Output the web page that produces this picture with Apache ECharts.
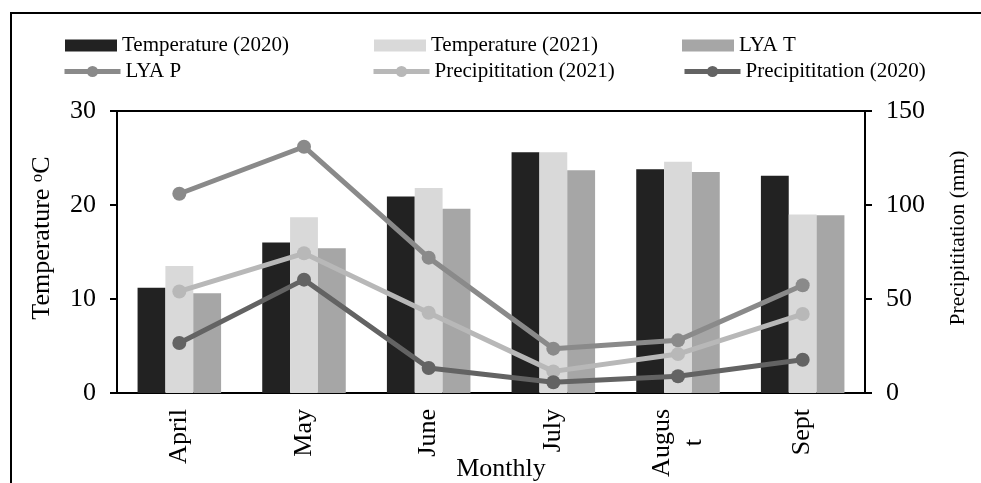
<!DOCTYPE html>
<html>
<head>
<meta charset="utf-8">
<script src="https://cdn.jsdelivr.net/npm/echarts@6/dist/echarts.min.js"></script>
<style>
  html, body { margin: 0; padding: 0; background: #fff; }
  #wrap { position: relative; width: 981px; height: 483px; overflow: hidden; }
  #chart { width: 981px; height: 483px; }
  #frame { position: absolute; left: 10px; top: 12px; width: 1000px; height: 500px;
           border-left: 2px solid #000; border-top: 2px solid #000; pointer-events: none; }
</style>
</head>
<body>
<div id="wrap">
  <div id="chart"></div>
  <div id="frame"></div>
</div>
<script>
// months on the x axis
const months = ['April', 'May', 'June', 'July', 'Augus\nt', 'Sept'];

// temperature bars (left axis, °C)
const temp2020 = [11.2, 16.0, 20.9, 25.6, 23.8, 23.1];
const temp2021 = [13.5, 18.7, 21.8, 25.6, 24.6, 19.0];
const lyaT = [10.6, 15.4, 19.6, 23.7, 23.5, 18.9];

// precipitation lines (right axis, mm)
const lyaP = [106, 131, 72, 23.6, 28, 57.3];
const precip2021 = [54, 74.3, 42.7, 11.5, 20.7, 42];
const precip2020 = [26.6, 60.3, 13.3, 5.7, 8.9, 17.7];

const serif = "'Liberation Serif', 'Times New Roman', serif";

const chart = echarts.init(document.getElementById('chart'));

// wrapped month labels: centre the short line under the long one
const ctx = document.createElement('canvas').getContext('2d');
ctx.font = '26px ' + serif;
const monthRich = { c: { fontFamily: serif, fontSize: 26, color: '#000', lineHeight: 32 } };
const monthFormatter = v => {
  const lines = v.split('\n');
  const widths = lines.map(s => ctx.measureText(s).width);
  const maxW = Math.max.apply(null, widths);
  return lines.map((s, i) => {
    const pad = Math.round((maxW - widths[i]) / 2);
    if (!pad) return '{c|' + s + '}';
    const key = 'p' + pad;
    monthRich[key] = Object.assign({}, monthRich.c, { padding: [0, pad, 0, 0] });
    return '{' + key + '|' + s + '}';
  }).join('\n');
};
months.forEach(monthFormatter);

const legendText = { fontFamily: serif, fontSize: 21, color: '#000' };
const barLegend = (name, left, top) => ({
  data: [name], left: left, top: top, icon: 'rect', padding: 0,
  itemWidth: 52, itemHeight: 12, itemGap: 0, textStyle: legendText
});
const lineLegend = (name, left, top) => ({
  data: [name], left: left, top: top, padding: 0,
  itemWidth: 56, itemHeight: 14, itemGap: 0, textStyle: legendText,
  lineStyle: { width: 5 }
});

const yAxisBase = {
  type: 'value',
  nameLocation: 'middle',
  nameRotate: 90,
  nameMoveOverlap: false,
  splitLine: { show: false },
  axisLine: { show: true, lineStyle: { color: '#000', width: 2 } },
  axisTick: { show: true, inside: false, length: 7, lineStyle: { color: '#000', width: 2 } },
  axisLabel: { fontFamily: serif, fontSize: 26, color: '#000', margin: 21 }
};

const lineSeries = (name, data, color) => ({
  name: name,
  type: 'line',
  yAxisIndex: 1,
  data: data,
  symbol: 'circle',
  symbolSize: 14,
  lineStyle: { color: color, width: 5 },
  itemStyle: { color: color },
  z: 3
});

const barSeries = (name, data, color) => ({
  name: name,
  type: 'bar',
  data: data,
  barGap: '0%',
  barCategoryGap: '33%',
  itemStyle: { color: color }
});

chart.setOption({
  animation: false,
  legend: [
    barLegend('Temperature (2020)', 65, 35),
    barLegend('Temperature (2021)', 374, 35),
    barLegend('LYA T', 682, 35),
    lineLegend('LYA P', 62, 61),
    lineLegend('Precipititation (2021)', 371, 61),
    lineLegend('Precipititation (2020)', 682, 61)
  ],
  grid: {
    left: 117, right: 116, top: 111, bottom: 90,
    outerBoundsMode: 'none',
    containLabel: false,
    show: true, borderColor: '#000', borderWidth: 2
  },
  xAxis: {
    type: 'category',
    data: months,
    name: 'Monthly',
    nameLocation: 'middle',
    nameGap: 63,
    nameMoveOverlap: false,
    nameTextStyle: { fontFamily: serif, fontSize: 26, color: '#000', padding: [0, 0, 0, 20] },
    axisLine: { lineStyle: { color: '#000', width: 2 } },
    axisTick: { alignWithLabel: true, length: 7, lineStyle: { color: '#000', width: 2 } },
    axisLabel: {
      rotate: 90, interval: 0, margin: 16,
      formatter: monthFormatter,
      rich: monthRich
    }
  },
  yAxis: [
    Object.assign({}, yAxisBase, {
      min: 0, max: 30, interval: 10,
      name: 'Temperature {sup|o}C',
      nameGap: 62,
      nameTextStyle: {
        fontFamily: serif, fontSize: 26, color: '#000', padding: [0, 0, 0, 28],
        rich: { sup: { fontFamily: serif, fontSize: 17, color: '#000', verticalAlign: 'top', padding: [0, 0, 8, 0] } }
      }
    }),
    Object.assign({}, yAxisBase, {
      min: 0, max: 150, interval: 50,
      name: 'Precipititation (mm)',
      nameGap: 82,
      nameTextStyle: { fontFamily: serif, fontSize: 21.5, color: '#000', padding: [0, 0, 0, 28] }
    })
  ],
  series: [
    barSeries('Temperature (2020)', temp2020, '#222222'),
    barSeries('Temperature (2021)', temp2021, '#d9d9d9'),
    barSeries('LYA T', lyaT, '#a6a6a6'),
    lineSeries('LYA P', lyaP, '#8a8a8a'),
    lineSeries('Precipititation (2021)', precip2021, '#b8b8b8'),
    lineSeries('Precipititation (2020)', precip2020, '#636363')
  ]
});
</script>
</body>
</html>
